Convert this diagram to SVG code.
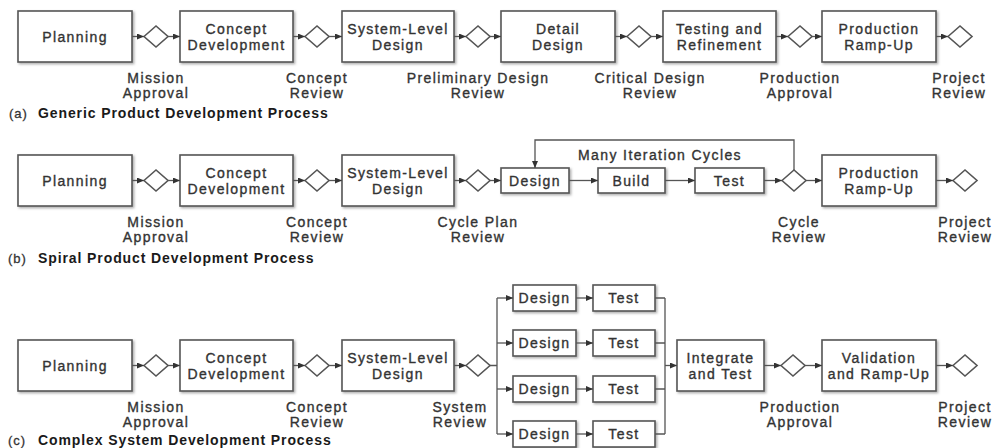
<svg xmlns="http://www.w3.org/2000/svg" width="995" height="448" viewBox="0 0 995 448">
<style>
text{font-family:"Liberation Sans",Arial,sans-serif;fill:#333}
.bt{font-size:14px;letter-spacing:1.4px;text-anchor:middle;stroke:#333;stroke-width:0.35}
.lb{font-size:14px;letter-spacing:1.4px;text-anchor:middle;stroke:#333;stroke-width:0.35}
.cap{font-size:13px;letter-spacing:1px;stroke:#333;stroke-width:0.3}
.capb{font-size:14px;letter-spacing:0.9px;font-weight:bold;fill:#1a1a1a}
.box{fill:#fff;stroke:#555;stroke-width:1.6;filter:url(#sh)}
.dia{fill:#fff;stroke:#555;stroke-width:1.6}
.ln{fill:none;stroke:#555;stroke-width:1.3}
.ar{fill:none;stroke:#555;stroke-width:1.3;marker-end:url(#ah)}
</style>
<defs>
<filter id="sh" x="-10%" y="-10%" width="130%" height="140%">
<feDropShadow dx="1.5" dy="1.5" stdDeviation="1" flood-color="#777" flood-opacity="0.6"/>
</filter>
<marker id="ah" markerUnits="userSpaceOnUse" markerWidth="7" markerHeight="6" refX="7" refY="3" orient="auto">
<path d="M0,0 L7,3 L0,6 z" fill="#333"/>
</marker>
</defs>
<rect width="995" height="448" fill="#fff"/>

<!-- Row A -->
<g id="a-planning"><rect class="box" x="18" y="11" width="114" height="51"/><text class="bt" x="75" y="41.5">Planning</text></g>
<g id="a-concept"><rect class="box" x="180" y="11" width="113" height="51"/><text class="bt" x="236.5" y="33.5">Concept</text><text class="bt" x="236.5" y="49.5">Development</text></g>
<g id="a-system"><rect class="box" x="342" y="11" width="112" height="51"/><text class="bt" x="398" y="33.5">System-Level</text><text class="bt" x="398" y="49.5">Design</text></g>
<g id="a-detail"><rect class="box" x="501" y="11" width="114" height="51"/><text class="bt" x="558" y="33.5">Detail</text><text class="bt" x="558" y="49.5">Design</text></g>
<g id="a-testing"><rect class="box" x="663" y="11" width="113" height="51"/><text class="bt" x="719.5" y="33.5">Testing and</text><text class="bt" x="719.5" y="49.5">Refinement</text></g>
<g id="a-production"><rect class="box" x="822" y="11" width="114" height="51"/><text class="bt" x="879" y="33.5">Production</text><text class="bt" x="879" y="49.5">Ramp-Up</text></g>
<g id="a-d1"><path class="dia" d="M144,36.5 L156,26 L168,36.5 L156,47 z"/><text class="lb" x="156" y="83">Mission</text><text class="lb" x="156" y="98">Approval</text></g>
<g id="a-d2"><path class="dia" d="M305,36.5 L317,26 L329,36.5 L317,47 z"/><text class="lb" x="317" y="83">Concept</text><text class="lb" x="317" y="98">Review</text></g>
<g id="a-d3"><path class="dia" d="M466,36.5 L478,26 L490,36.5 L478,47 z"/><text class="lb" x="478" y="83">Preliminary Design</text><text class="lb" x="478" y="98">Review</text></g>
<g id="a-d4"><path class="dia" d="M627,36.5 L639,26 L651,36.5 L639,47 z"/><text class="lb" x="650" y="83">Critical Design</text><text class="lb" x="650" y="98">Review</text></g>
<g id="a-d5"><path class="dia" d="M788,36.5 L800,26 L812,36.5 L800,47 z"/><text class="lb" x="800" y="83">Production</text><text class="lb" x="800" y="98">Approval</text></g>
<g id="a-d6"><path class="dia" d="M948,36.5 L960,26 L972,36.5 L960,47 z"/><text class="lb" x="959" y="83">Project</text><text class="lb" x="959" y="98">Review</text></g>
<text x="9" y="118" class="cap">(a)</text><text x="38" y="118" class="capb">Generic Product Development Process</text>

<!-- Row B -->
<g id="b-planning"><rect class="box" x="18" y="155" width="114" height="51"/><text class="bt" x="75" y="185.5">Planning</text></g>
<g id="b-concept"><rect class="box" x="180" y="155" width="113" height="51"/><text class="bt" x="236.5" y="177.5">Concept</text><text class="bt" x="236.5" y="193.5">Development</text></g>
<g id="b-system"><rect class="box" x="342" y="155" width="112" height="51"/><text class="bt" x="398" y="177.5">System-Level</text><text class="bt" x="398" y="193.5">Design</text></g>
<g id="b-design"><rect class="box" x="501" y="168" width="68" height="25"/><text class="bt" x="535" y="185.5">Design</text></g>
<g id="b-build"><rect class="box" x="598" y="168" width="67" height="25"/><text class="bt" x="631.5" y="185.5">Build</text></g>
<g id="b-test"><rect class="box" x="695" y="168" width="69" height="25"/><text class="bt" x="729.5" y="185.5">Test</text></g>
<g id="b-production"><rect class="box" x="822" y="155" width="114" height="51"/><text class="bt" x="879" y="177.5">Production</text><text class="bt" x="879" y="193.5">Ramp-Up</text></g>
<g id="b-d1"><path class="dia" d="M144,180.5 L156,170 L168,180.5 L156,191 z"/><text class="lb" x="156" y="227">Mission</text><text class="lb" x="156" y="242">Approval</text></g>
<g id="b-d2"><path class="dia" d="M305,180.5 L317,170 L329,180.5 L317,191 z"/><text class="lb" x="317" y="227">Concept</text><text class="lb" x="317" y="242">Review</text></g>
<g id="b-d3"><path class="dia" d="M466,180.5 L478,170 L490,180.5 L478,191 z"/><text class="lb" x="478" y="227">Cycle Plan</text><text class="lb" x="478" y="242">Review</text></g>
<g id="b-d4"><path class="dia" d="M782,180.5 L794,170 L806,180.5 L794,191 z"/><text class="lb" x="799" y="227">Cycle</text><text class="lb" x="799" y="242">Review</text></g>
<g id="b-d5"><path class="dia" d="M953,180.5 L965,170 L977,180.5 L965,191 z"/><text class="lb" x="965" y="227">Project</text><text class="lb" x="965" y="242">Review</text></g>
<text class="lb" x="660" y="160">Many Iteration Cycles</text>
<text x="8" y="263" class="cap">(b)</text><text x="38" y="263" class="capb">Spiral Product Development Process</text>

<!-- Row C -->
<g id="c-planning"><rect class="box" x="18" y="340" width="114" height="51"/><text class="bt" x="75" y="370.5">Planning</text></g>
<g id="c-concept"><rect class="box" x="180" y="340" width="113" height="51"/><text class="bt" x="236.5" y="362.5">Concept</text><text class="bt" x="236.5" y="378.5">Development</text></g>
<g id="c-system"><rect class="box" x="342" y="340" width="112" height="51"/><text class="bt" x="398" y="362.5">System-Level</text><text class="bt" x="398" y="378.5">Design</text></g>
<g id="c-design1"><rect class="box" x="513" y="285" width="63" height="26"/><text class="bt" x="544.5" y="303">Design</text></g>
<g id="c-test1"><rect class="box" x="593" y="285" width="62" height="26"/><text class="bt" x="624" y="303">Test</text></g>
<g id="c-design2"><rect class="box" x="513" y="330" width="63" height="26"/><text class="bt" x="544.5" y="348">Design</text></g>
<g id="c-test2"><rect class="box" x="593" y="330" width="62" height="26"/><text class="bt" x="624" y="348">Test</text></g>
<g id="c-design3"><rect class="box" x="513" y="376" width="63" height="26"/><text class="bt" x="544.5" y="394">Design</text></g>
<g id="c-test3"><rect class="box" x="593" y="376" width="62" height="26"/><text class="bt" x="624" y="394">Test</text></g>
<g id="c-design4"><rect class="box" x="513" y="421" width="63" height="26"/><text class="bt" x="544.5" y="439">Design</text></g>
<g id="c-test4"><rect class="box" x="593" y="421" width="62" height="26"/><text class="bt" x="624" y="439">Test</text></g>
<g id="c-integrate"><rect class="box" x="677" y="340" width="87" height="51"/><text class="bt" x="720.5" y="362.5">Integrate</text><text class="bt" x="720.5" y="378.5">and Test</text></g>
<g id="c-validation"><rect class="box" x="822" y="340" width="114" height="51"/><text class="bt" x="879" y="362.5">Validation</text><text class="bt" x="879" y="378.5">and Ramp-Up</text></g>
<g id="c-d1"><path class="dia" d="M144,365.5 L156,355 L168,365.5 L156,376 z"/><text class="lb" x="156" y="412">Mission</text><text class="lb" x="156" y="427">Approval</text></g>
<g id="c-d2"><path class="dia" d="M305,365.5 L317,355 L329,365.5 L317,376 z"/><text class="lb" x="317" y="412">Concept</text><text class="lb" x="317" y="427">Review</text></g>
<g id="c-d3"><path class="dia" d="M466,365.5 L478,355 L490,365.5 L478,376 z"/><text class="lb" x="460" y="412">System</text><text class="lb" x="460" y="427">Review</text></g>
<g id="c-d4"><path class="dia" d="M781,365.5 L793,355 L805,365.5 L793,376 z"/><text class="lb" x="800" y="412">Production</text><text class="lb" x="800" y="427">Approval</text></g>
<g id="c-d5"><path class="dia" d="M953,365.5 L965,355 L977,365.5 L965,376 z"/><text class="lb" x="965" y="412">Project</text><text class="lb" x="965" y="427">Review</text></g>
<text x="8" y="445" class="cap">(c)</text><text x="38" y="445" class="capb">Complex System Development Process</text>

<g id="connectors">
<!-- row a -->
<path class="ar" d="M132,36.5 H144"/><path class="ar" d="M168,36.5 H180"/>
<path class="ar" d="M293,36.5 H305"/><path class="ar" d="M329,36.5 H342"/>
<path class="ar" d="M454,36.5 H466"/><path class="ar" d="M490,36.5 H501"/>
<path class="ar" d="M615,36.5 H627"/><path class="ar" d="M651,36.5 H663"/>
<path class="ar" d="M776,36.5 H788"/><path class="ar" d="M812,36.5 H822"/>
<path class="ar" d="M936,36.5 H948"/>
<!-- row b -->
<path class="ar" d="M132,180.5 H144"/><path class="ar" d="M168,180.5 H180"/>
<path class="ar" d="M293,180.5 H305"/><path class="ar" d="M329,180.5 H342"/>
<path class="ar" d="M454,180.5 H466"/><path class="ar" d="M490,180.5 H501"/>
<path class="ar" d="M569,180.5 H598"/><path class="ar" d="M665,180.5 H695"/>
<path class="ar" d="M764,180.5 H782"/><path class="ar" d="M806,180.5 H822"/>
<path class="ar" d="M936,180.5 H953"/>
<path class="ar" d="M794,170 V140 H535 V168"/>
<!-- row c -->
<path class="ar" d="M132,365.5 H144"/><path class="ar" d="M168,365.5 H180"/>
<path class="ar" d="M293,365.5 H305"/><path class="ar" d="M329,365.5 H342"/>
<path class="ar" d="M454,365.5 H466"/>
<path class="ln" d="M490,365.5 H497 M497,298 V434"/>
<path class="ar" d="M497,298 H513"/><path class="ar" d="M497,343 H513"/>
<path class="ar" d="M497,389 H513"/><path class="ar" d="M497,434 H513"/>
<path class="ar" d="M576,298 H593"/><path class="ar" d="M576,343 H593"/>
<path class="ar" d="M576,389 H593"/><path class="ar" d="M576,434 H593"/>
<path class="ln" d="M655,298 H665 M655,343 H665 M655,389 H665 M655,434 H665 M665,298 V434"/>
<path class="ar" d="M665,365.5 H677"/>
<path class="ar" d="M764,365.5 H781"/><path class="ar" d="M805,365.5 H822"/>
<path class="ar" d="M936,365.5 H953"/>
</g>
</svg>
